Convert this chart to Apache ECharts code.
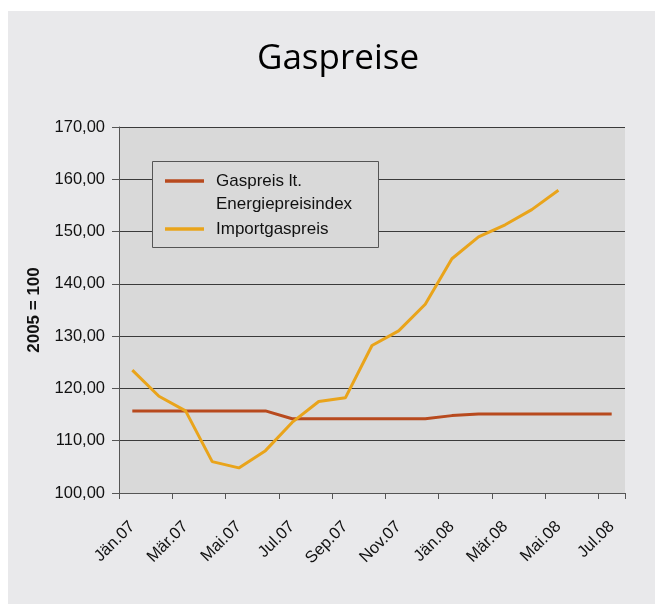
<!DOCTYPE html>
<html><head><meta charset="utf-8">
<script src="https://cdn.jsdelivr.net/npm/echarts@6/dist/echarts.min.js"></script>
<style>
html,body{margin:0;padding:0;background:#ffffff;}
#bg{position:absolute;left:8px;top:11px;width:647px;height:593px;background:#e9e9eb;}
#c{position:absolute;left:0;top:0;width:655px;height:604px;}
</style></head>
<body>
<div id="bg"></div>
<div id="c"></div>
<script>
const categories = ['Jän.07','Feb.07','Mär.07','Apr.07','Mai.07','Jun.07','Jul.07','Aug.07','Sep.07','Okt.07','Nov.07','Dez.07','Jän.08','Feb.08','Mär.08','Apr.08','Mai.08','Jun.08','Jul.08'];
const gaspreisIndex = [115.7,115.7,115.7,115.7,115.7,115.7,114.2,114.2,114.2,114.2,114.2,114.2,114.8,115.1,115.1,115.1,115.1,115.1,115.1];
const importgaspreis = [123.5,118.5,115.7,106.0,104.8,108.1,113.5,117.5,118.2,128.2,131.0,136.1,144.8,149.0,151.3,154.2,157.9,null,null];
const seriesNames = ['Gaspreis lt.\nEnergiepreisindex','Importgaspreis'];
const yMin = 100, yMax = 170, yStep = 10;

const chart = echarts.init(document.getElementById('c'), null, {renderer:'canvas'});
const brown = '#b84a1e', orange = '#e9a41b';
const font = '"Liberation Sans", Arial, sans-serif';
chart.setOption({
  backgroundColor: 'transparent',
  animation: false,
  title: {
    text: 'Gaspreise', left: 333, top: 37, textAlign: 'center',
    textStyle: {fontFamily: '"Open Sans", sans-serif', fontSize: 35, fontWeight: 'normal', color: '#000'}
  },
  grid: {left: 119, right: 30, top: 127, bottom: 111, show: true, backgroundColor: '#d9d9d9', borderWidth: 0},
  xAxis: {
    type: 'category', data: categories, boundaryGap: true,
    axisLine: {lineStyle: {color: '#555', width: 1}},
    axisTick: {show: true, interval: 1, length: 6, lineStyle: {color: '#555'}},
    axisLabel: {interval: 1, rotate: 45, fontFamily: font, fontSize: 16.5, color: '#111', margin: 31}
  },
  yAxis: {
    type: 'value', min: yMin, max: yMax, interval: yStep,
    name: '2005 = 100', nameLocation: 'middle', nameGap: 76, nameRotate: 90,
    nameTextStyle: {fontFamily: font, fontSize: 17, fontWeight: 'bold', color: '#111'},
    axisLine: {show: true, lineStyle: {color: '#555', width: 1}},
    axisTick: {show: true, length: 7, lineStyle: {color: '#555'}},
    splitLine: {show: true, lineStyle: {color: '#3a3a3a', width: 1}},
    axisLabel: {fontFamily: font, fontSize: 16.5, color: '#111', margin: 14,
      formatter: v => v.toFixed(2).replace('.', ',')}
  },
  series: [
    {name: seriesNames[0], type: 'line', data: gaspreisIndex, showSymbol: false, lineStyle: {color: brown, width: 3}, itemStyle: {color: brown}},
    {name: seriesNames[1], type: 'line', data: importgaspreis, showSymbol: false, lineStyle: {color: orange, width: 3}, itemStyle: {color: orange}}
  ],
  graphic: [
    {type: 'rect', z: 100, shape: {x: 152.5, y: 161.5, width: 226, height: 86}, style: {fill: '#d9d9d9', stroke: '#555', lineWidth: 1}},
    {type: 'line', z: 101, shape: {x1: 165, y1: 181, x2: 204, y2: 181}, style: {stroke: brown, lineWidth: 3.5}},
    {type: 'line', z: 101, shape: {x1: 165, y1: 229, x2: 204, y2: 229}, style: {stroke: orange, lineWidth: 3.5}},
    {type: 'text', z: 101, x: 216, y: 181, style: {text: 'Gaspreis lt.', fill: '#111', font: '17px ' + font, textVerticalAlign: 'middle'}},
    {type: 'text', z: 101, x: 216, y: 204, style: {text: 'Energiepreisindex', fill: '#111', font: '17px ' + font, textVerticalAlign: 'middle'}},
    {type: 'text', z: 101, x: 216, y: 229, style: {text: 'Importgaspreis', fill: '#111', font: '17px ' + font, textVerticalAlign: 'middle'}}
  ]
});
</script>
</body></html>
